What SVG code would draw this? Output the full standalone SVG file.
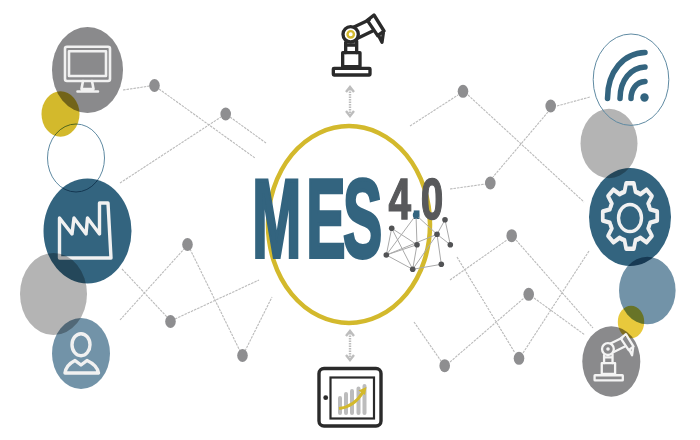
<svg xmlns="http://www.w3.org/2000/svg" xmlns:xlink="http://www.w3.org/1999/xlink" width="700" height="440" viewBox="0 0 700 440">
<style>
.blob{mix-blend-mode:multiply}
.grey{fill:#8a8a8c}.pale{fill:#b4b4b4}.navy{fill:#33647f}.sky{fill:#7293a8}.gold{fill:#d3b92c}
.ic{fill:none;stroke:#f1f1f1;stroke-width:3.4;stroke-linejoin:round;stroke-linecap:round}
.dash{fill:none;stroke:#bababa;stroke-width:1.1;stroke-dasharray:2.5 1}
.dot{fill:#8e8e90}
.mes{font-family:"Liberation Sans",Arial,sans-serif;font-weight:700;fill:#33647f;stroke:#33647f;stroke-width:3;vector-effect:non-scaling-stroke;font-size:111px}
.four{font-family:"Liberation Sans",Arial,sans-serif;font-weight:700;fill:#58595b;stroke:#58595b;stroke-width:1.2;vector-effect:non-scaling-stroke;font-size:58px}
.net{stroke:#a9a9a9;stroke-width:1;fill:none}
.nd{fill:#525355}
.dk{fill:none;stroke:#2a2a2a;stroke-width:3.4;stroke-linejoin:round}
.arr{fill:none;stroke:#bdbdbd;stroke-width:2.4}
.arrd{fill:none;stroke:#bdbdbd;stroke-width:2.4;stroke-dasharray:1.5 1}
</style>
<defs>
<g id="arm" fill="none" stroke-linejoin="round" stroke-linecap="round">
<rect x="70" y="190" width="110" height="20" rx="2"/>
<rect x="98" y="143" width="52" height="42"/>
<path d="M107 143V112M140 143V108M107 120H140"/>
<circle cx="122" cy="88" r="23"/>
<path d="M132 66L178 44M143 100L188 78"/>
<path d="M192 30L222 78L203 92L172 46Z"/>
<path d="M206 92L216 112L220 84"/>
</g>
<path id="tooth" d="M-7.27-17.55L-5-18.3L-3.5-24.75H3.5L5-18.3L7.27-17.55"/>
<g id="dbl"><path class="arrd" d="M0 4V28"/><path class="arr" d="M-4 7L0 2L4 7M-4 26L0 31L4 26"/></g>
</defs>

<g id="connectors">
<path class="dash" d="M123 90L150 86M159 89L255 158M120 183L221 117M230 117L266 143"/>
<path class="dash" d="M122 269L167 317M120 320L184 249M175 319L259 280M190 249L240 351M245 351L272 297"/>
<path class="dash" d="M410 126L458 95M468 95L584 202M557 106L590 97M548 112L493 177M450 189L486 184"/>
<path class="dash" d="M450 280L507 240M516 240L593 328M457 257L515 353M523 353L589 251M534 298L585 335M450 362L524 298M414 322L441 361"/>
<use xlink:href="#dbl" href="#dbl" x="350" y="85"/>
<use xlink:href="#dbl" href="#dbl" x="350" y="329"/>
<g class="dot">
<ellipse cx="154.5" cy="85.5" rx="5.3" ry="6.5"/><ellipse cx="225.7" cy="114" rx="5.3" ry="6.5"/>
<ellipse cx="187.5" cy="244.5" rx="5.3" ry="6.5"/><ellipse cx="170.5" cy="321.5" rx="5.3" ry="6.5"/>
<ellipse cx="242.5" cy="355.5" rx="5.3" ry="6.5"/><ellipse cx="463" cy="91.3" rx="5.3" ry="6.5"/>
<ellipse cx="550.7" cy="106" rx="5.3" ry="6.5"/><ellipse cx="490.3" cy="183" rx="5.3" ry="6.5"/>
<ellipse cx="511.7" cy="235.7" rx="5.3" ry="6.5"/><ellipse cx="528.7" cy="294.3" rx="5.3" ry="6.5"/>
<ellipse cx="444.7" cy="365.7" rx="5.3" ry="6.5"/><ellipse cx="519" cy="358.3" rx="5.3" ry="6.5"/>
</g>
</g>

<g id="node-monitor">
<ellipse class="grey blob" cx="87.5" cy="70" rx="35.5" ry="43"/>
<g class="ic" style="stroke-width:2.6"><rect x="65" y="46.7" width="45" height="34.3" rx="2"/><rect x="69" y="51.3" width="37" height="24.7"/><path d="M83 81L81.500 89H93.500L92 81M77.500 91.500H98"/></g>
</g>
<g id="node-gold-left"><ellipse class="gold blob" cx="60.5" cy="114" rx="19" ry="22.7"/></g>
<g id="node-factory">
<ellipse class="navy blob" cx="87.5" cy="231" rx="44" ry="52.5"/>
<path class="ic" d="M59.5 218L72 234L74 218L86 234L87.5 218L99.5 234V203H108L111 258H59.5Z"/>
</g>
<g id="node-ring-left"><ellipse cx="76" cy="158" rx="28.5" ry="34" fill="none" stroke="#5f8aa2" stroke-width="1" class="blob"/></g>
<g id="node-pale-left"><ellipse class="pale blob" cx="53.5" cy="294" rx="33.5" ry="41"/></g>
<g id="node-person">
<ellipse class="sky blob" cx="81" cy="353.5" rx="29" ry="35.5"/>
<ellipse class="ic" cx="81" cy="344.7" rx="9" ry="11"/>
<path class="ic" d="M65 373Q66 365 75 360.500L81 365L87 360.500Q97 365 98.500 373Z"/>
</g>

<g id="node-logo">
<ellipse cx="349" cy="224.500" rx="81" ry="98.500" fill="none" stroke="#d3b92c" stroke-width="4.500"/>
<text class="mes" transform="translate(0 256.800) scale(.53 1)" x="476 578 647">MES</text>
<text class="four" transform="translate(0 218.500) scale(.7 1)" x="555 587 601">4<tspan style="fill:#33647f;stroke:none">.</tspan>0</text>
<path class="net" d="M416 215L386.300 255M416 215L417 244.700M416 215L437 234.300M391.700 228.300L386.300 255M391.700 228.300L412.700 269.300M391.700 228.300L417 244.700M386.300 255L417 244.700M386.300 255L437 234.300M386.300 255L412.700 269.300M417 244.700L412.700 269.300M412.700 269.300L437 234.300M412.700 269.300L441.300 264.300M437 234.300L441.300 264.300M437 234.300L445 219.700M445 219.700L450.300 244.700M437 234.300L450.300 244.700"/>
<circle cx="416" cy="215" r="3.200" fill="#33647f"/>
<g class="nd"><circle cx="445" cy="219.700" r="2.800"/><circle cx="391.700" cy="228.300" r="2.800"/><circle cx="437" cy="234.300" r="2.800"/><circle cx="417" cy="244.700" r="2.800"/><circle cx="450.300" cy="244.700" r="2.800"/><circle cx="386.300" cy="255" r="2.800"/><circle cx="412.700" cy="269.300" r="2.800"/><circle cx="441.300" cy="264.300" r="2.800"/></g>
</g>

<g id="node-robot-top">
<use xlink:href="#arm" href="#arm" transform="translate(310 5) scale(.3333)" stroke="#2a2a2a" stroke-width="10"/>
<circle cx="350.700" cy="34.300" r="3.200" fill="#fff" stroke="#d3b92c" stroke-width="2.400"/>
</g>

<g id="node-tablet">
<rect class="dk" x="319" y="368.500" width="62" height="57.500" rx="5"/>
<rect x="330.500" y="377.500" width="43.500" height="41" fill="none" stroke="#2a2a2a" stroke-width="2.200"/>
<circle cx="325.700" cy="397.700" r="2.400" fill="#2a2a2a"/>
<path d="M340 413V398M346 413V394M352 413V391M358.500 413V388.500M364.500 413V386" stroke="#bcbcbc" stroke-width="4" stroke-linecap="round" fill="none"/>
<path d="M339 408.500Q354 407 363 392" fill="none" stroke="#d3b92c" stroke-width="3"/>
<path d="M358.500 390.500L366.500 387L365 395Z" fill="#d3b92c"/>
</g>

<g id="node-pale-right"><ellipse class="pale blob" cx="609" cy="143.500" rx="28.500" ry="34.700"/></g>
<g id="node-wifi">
<ellipse cx="631" cy="79.700" rx="37.800" ry="45.700" fill="none" stroke="#5f8aa2" stroke-width="1"/>
<g fill="none" stroke="#33647f" stroke-width="5.500" stroke-linecap="round">
<path d="M607.500 98.500C607.500 71 624 53 645 52.500"/><path d="M620 98.500C620 80 631 67.500 645 67"/><path d="M631 98.500C631 90 636 82 645 81.500"/>
</g>
<circle cx="644.500" cy="97.500" r="4.200" fill="#33647f"/>
</g>
<g id="node-gear">
<ellipse class="navy blob" cx="630" cy="217" rx="41" ry="49"/>
<g transform="translate(630 216) scale(1.1 1.32)" class="ic">
<use xlink:href="#tooth" href="#tooth"/><use xlink:href="#tooth" href="#tooth" transform="rotate(45)"/><use xlink:href="#tooth" href="#tooth" transform="rotate(90)"/><use xlink:href="#tooth" href="#tooth" transform="rotate(135)"/><use xlink:href="#tooth" href="#tooth" transform="rotate(180)"/><use xlink:href="#tooth" href="#tooth" transform="rotate(225)"/><use xlink:href="#tooth" href="#tooth" transform="rotate(270)"/><use xlink:href="#tooth" href="#tooth" transform="rotate(315)"/>
</g>
<ellipse class="ic" cx="630" cy="218" rx="11.500" ry="13.500"/>
</g>
<g id="node-sky-right"><ellipse class="sky blob" cx="647.300" cy="290.500" rx="28.300" ry="33.800"/></g>
<g id="node-gold-right"><ellipse class="blob" fill="#e8c93c" cx="631" cy="322" rx="13.200" ry="16.200"/></g>
<g id="node-robot-small">
<ellipse class="grey blob" cx="611.300" cy="361.500" rx="29" ry="35.200"/>
<use xlink:href="#arm" href="#arm" transform="translate(576.600 326.500) scale(.2567)" stroke="#f4f4f4" stroke-width="9"/>
<circle cx="608" cy="349" r="1.800" fill="#f4f4f4"/>
</g>
</svg>
